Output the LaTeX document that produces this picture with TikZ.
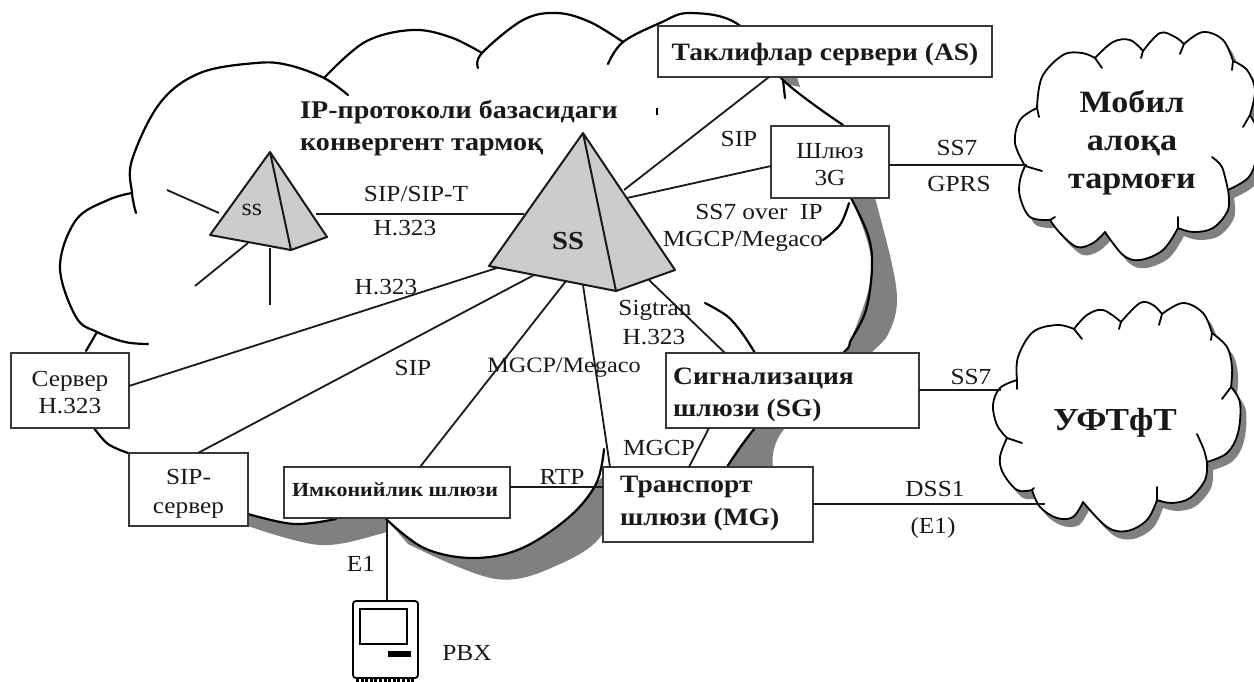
\documentclass[tikz,border=0pt]{standalone}
\usepackage{fontspec}
\usetikzlibrary{calc}
\setmainfont[FakeStretch=1.1]{Liberation Serif}
\definecolor{shadowgray}{gray}{0.5}
\definecolor{pyr}{gray}{0.8}
\definecolor{ink}{gray}{0.1}
\definecolor{boxink}{gray}{0.22}
\tikzset{
  x=1pt,y=-1pt,
  curve/.style={draw=black,line width=2.2pt,line cap=round,line join=round},
  thincurve/.style={draw=black,line width=1.8pt,line cap=round,line join=round},
  conn/.style={draw=ink,line width=1.8pt},
  pyramid/.style={draw=ink,line width=2pt,fill=pyr,line join=round},
  boxn/.style={draw=boxink,fill=white,line width=1.8pt,inner sep=0pt,outer sep=0pt},
  boxtxt/.style={inner sep=0pt,align=center,font=\fontsize{23}{27}\selectfont,text=ink},
  boldtxt/.style={inner sep=0pt,align=left,font=\fontsize{25}{32}\bfseries\selectfont,text=ink},
  lbl/.style={inner sep=0pt,font=\fontsize{23}{23}\selectfont,text=ink},
  heavy/.style={inner sep=0pt,font=\fontsize{25.5}{36}\bfseries\selectfont,align=left,text=ink},
  cloudtxt/.style={inner sep=0pt,font=\fontsize{31}{38}\bfseries\selectfont,align=center,text=ink},
}
\newcommand{\mobilepath}[1]{\path[#1]
  plot[smooth,tension=.6] coordinates {(1025,166)(1015,143)(1020,120)(1037,108)}
  -- plot[smooth,tension=.6] coordinates {(1037,108)(1042,77)(1063,55)(1082,53)(1095,58)}
  -- plot[smooth,tension=.6] coordinates {(1095,58)(1113,42)(1130,40)(1143,51)}
  -- plot[smooth,tension=.6] coordinates {(1143,51)(1160,33)(1175,37)(1184,44)}
  -- plot[smooth,tension=.6] coordinates {(1184,44)(1203,32)(1223,40)(1233,61)}
  -- plot[smooth,tension=.6] coordinates {(1233,61)(1247,70)(1255,90)(1250,115)}
  -- plot[smooth,tension=.6] coordinates {(1250,115)(1259,135)(1256,160)(1248,178)(1228,190)}
  -- plot[smooth,tension=.6] coordinates {(1228,190)(1228,210)(1213,228)(1193,232)(1178,228)}
  -- plot[smooth,tension=.6] coordinates {(1178,228)(1163,250)(1140,260)(1123,255)(1105,232)}
  -- plot[smooth,tension=.6] coordinates {(1105,232)(1093,243)(1077,247)(1060,233)(1050,220)}
  -- plot[smooth,tension=.6] coordinates {(1050,220)(1030,217)(1020,197)(1020,180)(1025,166)};}
\newcommand{\pstnpath}[1]{\path[#1]
  plot[smooth,tension=.6] coordinates {(1007,438)(997,425)(993,405)(1000,388)(1017,380)}
  -- plot[smooth,tension=.6] coordinates {(1017,380)(1018,357)(1033,332)(1057,325)(1074,329)}
  -- plot[smooth,tension=.6] coordinates {(1074,329)(1087,315)(1103,310)(1121,322)}
  -- plot[smooth,tension=.6] coordinates {(1121,322)(1140,303)(1153,305)(1162,314)}
  -- plot[smooth,tension=.6] coordinates {(1162,314)(1183,303)(1203,313)(1212,333)}
  -- plot[smooth,tension=.6] coordinates {(1212,333)(1227,347)(1232,367)(1231,387)}
  -- plot[smooth,tension=.6] coordinates {(1231,387)(1240,403)(1238,433)(1227,453)(1207,462)}
  -- plot[smooth,tension=.6] coordinates {(1207,462)(1205,480)(1190,498)(1172,503)(1157,500)}
  -- plot[smooth,tension=.6] coordinates {(1157,500)(1147,520)(1127,531)(1107,527)(1083,502)}
  -- plot[smooth,tension=.6] coordinates {(1083,502)(1073,517)(1057,518)(1040,507)(1032,490)}
  -- plot[smooth,tension=.6] coordinates {(1032,490)(1017,490)(1003,473)(1000,457)(1007,438)};}
\begin{document}
\begin{tikzpicture}
\clip (0,0) rectangle (1254,682);
\fill[white] (0,0) rectangle (1254,682);
% --- grey shadows of the large cloud
\fill[shadowgray] plot[smooth,tension=.6] coordinates {(851,198)(872,267)(851,340)(843,353)(755,428)(727,467)}
  -- plot[smooth,tension=.6] coordinates {(773,467)(785,428)(871,353)(890,330)(897,300)(891,260)(875,198)} -- cycle;
\fill[shadowgray] (781,77) -- (797,77) -- (800,87) -- (786,84) -- cycle;
\fill[shadowgray] plot[smooth,tension=.6] coordinates {(248,514)(294,524)(336,519)(386,519)}
  -- plot[smooth,tension=.6] coordinates {(386,530)(380,534)(320,545)(248,526)} -- cycle;
\fill[shadowgray] plot[smooth,tension=.6] coordinates {(386,519)(424,548)(472,558)(520,549)(568,518)(596,484)}
  -- plot[smooth,tension=.6] coordinates {(604,475)(604,531)(560,564)(496,579)(408,544)} -- cycle;
% --- outline of the large cloud
\draw[curve] plot[smooth,tension=.6] coordinates {(136,213)(132,193)(132,160)(160,103)(200,73)(256,63)(288,65)(324,78)(348,95)};
\draw[curve] plot[smooth,tension=.6] coordinates {(324,78)(365,42)(412,30)(450,37)(482,53)};
\draw[curve] plot[smooth,tension=.6] coordinates {(478,68)(482,53)(523,20)(557,13)(590,22)(623,42)};
\draw[curve] plot[smooth,tension=.6] coordinates {(608,64)(623,42)(660,23)(690,13)(739,25)(783,80)(843,125)};
\draw[curve] (785,98) -- (783,80);
\draw[curve] plot[smooth,tension=.6] coordinates {(823,240)(840,225)(849,203)};
\draw[curve] plot[smooth,tension=.6] coordinates {(851,198)(868,235)(872,267)(866,310)(851,340)(843,353)(790,395)(755,428)(727,467)};
\draw[curve] plot[smooth,tension=.6] coordinates {(705,303)(727,316)(742,333)(755,353)};
\draw[curve] plot[smooth,tension=.6] coordinates {(132,193)(108,200)(76,220)(60,267)(76,317)(97,332)(125,342)(148,344)};
\draw[curve] (97,332) -- (86,351);
\draw[curve] plot[smooth,tension=.6] coordinates {(94,428)(108,444)(128,453)};
\draw[curve] plot[smooth,tension=.6] coordinates {(248,514)(294,524)(336,519)};
\draw[curve] plot[smooth,tension=.6] coordinates {(386,519)(424,548)(472,558)(520,549)(568,518)(596,484)(604,449)};
\fill[black] (656.3,108) rectangle (657.7,115);
% --- the two small clouds
\mobilepath{fill=shadowgray,shift={(6,8)}}
\mobilepath{fill=white,thincurve}
\draw[thincurve] (1025,166) -- (1042,171);
\draw[thincurve] (1037,108) -- (1039,117);
\draw[thincurve] (1095,58) -- (1102,68);
\draw[thincurve] (1143,51) -- (1141,58);
\draw[thincurve] (1184,44) -- (1180,54);
\draw[thincurve] (1233,61) -- (1232,70);
\draw[thincurve] (1250,115) -- (1243,127);
\draw[thincurve] plot[smooth] coordinates {(1228,190)(1222,167)(1212,157)};
\draw[thincurve] (1178,228) -- (1178,217);
\draw[thincurve] (1050,220) -- (1055,217);
\pstnpath{fill=shadowgray,shift={(6,8)}}
\pstnpath{fill=white,thincurve}
\draw[thincurve] (1007,438) -- (1022,443);
\draw[thincurve] (1017,380) -- (1017,389);
\draw[thincurve] (1074,329) -- (1082,339);
\draw[thincurve] (1121,322) -- (1119,329);
\draw[thincurve] (1162,314) -- (1159,325);
\draw[thincurve] (1212,333) -- (1211,340);
\draw[thincurve] (1231,387) -- (1222,399);
\draw[thincurve] plot[smooth] coordinates {(1207,462)(1204,450)(1197,434)};
\draw[thincurve] (1157,500) -- (1157,487);
\draw[thincurve] (1032,490) -- (1034,488);
% --- boxes
\node[boxn,minimum width=334pt,minimum height=51pt] (as) at (825,51.5) {};
\node[boxn,minimum width=118pt,minimum height=72pt] (gw3) at (830,162) {};
\node[boxn,minimum width=118pt,minimum height=75pt] (srv) at (70,390.5) {};
\node[boxn,minimum width=119pt,minimum height=73pt] (sipb) at (188.5,489.5) {};
\node[boxn,minimum width=226pt,minimum height=51pt] (imk) at (397,492.5) {};
\node[boxn,minimum width=253pt,minimum height=75pt] (sg) at (792.5,390.5) {};
\node[boxn,minimum width=210pt,minimum height=75pt] (mg) at (708,504.5) {};
% --- box texts
\node[boxtxt,font=\fontsize{25}{27}\bfseries\selectfont] (asT) at (825,54.5) {Таклифлар сервери (AS)};
\node[boxtxt] (gw3T) at (830,164.5) {Шлюз\\3G};
\node[boxtxt] (srvT) at (70,392.5) {Сервер\\H.323};
\node[boxtxt,font=\fontsize{23}{29}\selectfont] (sipbT) at (188.5,493.5) {SIP-\\сервер};
\node[boxtxt,font=\fontsize{20}{20}\bfseries\selectfont] (imkT) at (395,489.5) {Имконийлик шлюзи};
\node[boldtxt,anchor=west] (sgT) at (673,394.5) {Сигнализация\\шлюзи (SG)};
\node[boldtxt,anchor=west,font=\fontsize{25}{33}\bfseries\selectfont] (mgT) at (620,503) {Транспорт\\шлюзи (MG)};
% --- connector end points
\coordinate (sA) at (270,152);
\coordinate (sL) at (210,235);
\coordinate (sB) at (291,250);
\coordinate (sR) at (327,237);
\coordinate (bA) at (583,133);
\coordinate (bL) at (489,266);
\coordinate (bB) at (616,291);
\coordinate (bR) at (675,270);
\coordinate (f1) at (167,190);
\coordinate (f1e) at (219,213);
\coordinate (f2) at (195,286);
\coordinate (f2e) at (248,243);
\coordinate (f3) at (270,305);
\coordinate (f3e) at (270,248);
\coordinate (sbL) at (316,214);
\coordinate (sbR) at (524,214);
\coordinate (b1) at (500,267);
\coordinate (srvE) at (129,386);
\coordinate (b2) at (534,275);
\coordinate (sipN) at (198,453);
\coordinate (b3) at (566,281);
\coordinate (imkN) at (420,467);
\coordinate (b4) at (583,285);
\coordinate (mgN) at (610,467);
\coordinate (b5) at (649,280);
\coordinate (sgN) at (725,353);
\coordinate (sgS) at (709,428);
\coordinate (mgN2) at (689,467);
\coordinate (b6) at (624,190);
\coordinate (asS) at (769,77);
\coordinate (b7) at (627,198);
\coordinate (gwW) at (771,166);
\coordinate (gwE) at (889,165);
\coordinate (mobW) at (1027,165);
\coordinate (sgE) at (919,390);
\coordinate (ufW) at (1001,390);
\coordinate (mgE) at (813,504);
\coordinate (ufS) at (1045,504);
\coordinate (imkE) at (510,487);
\coordinate (mgW) at (603,487);
\coordinate (imkS) at (387,518);
\coordinate (pbxN) at (387,601);
% --- connectors
\draw[conn] (f1) -- (f1e);
\draw[conn] (f2) -- (f2e);
\draw[conn] (f3) -- (f3e);
\draw[conn] (sbL) -- (sbR);
\draw[conn] (b1) -- (srvE);
\draw[conn] (b2) -- (sipN);
\draw[conn] (b3) -- (imkN);
\draw[conn] (b4) -- (mgN);
\draw[conn] (b5) -- (sgN);
\draw[conn] (sgS) -- (mgN2);
\draw[conn] (b6) -- (asS);
\draw[conn] (b7) -- (gwW);
\draw[conn] (gwE) -- (mobW);
\draw[conn] (sgE) -- (ufW);
\draw[conn] (mgE) -- (ufS);
\draw[conn] (imkE) -- (mgW);
\draw[conn] (imkS) -- (pbxN);
% --- pyramids
\draw[pyramid] (sA) -- (sL) -- (sB) -- (sR) -- cycle (sA) -- (sB);
\draw[pyramid] (bA) -- (bL) -- (bB) -- (bR) -- cycle (bA) -- (bB);
\node[lbl,font=\fontsize{24}{24}\selectfont] (ssS) at (252,210) {ss};
\node[lbl,font=\fontsize{26}{26}\bfseries\selectfont] (ssB) at (568,241) {SS};
% --- PBX
\node[draw=black,fill=white,line width=1.8pt,rounded corners=3pt,minimum width=65pt,minimum height=77pt,inner sep=0pt,outer sep=0pt] (pbx) at (385.5,639.5) {};
\node[draw=black,line width=1.8pt,minimum width=47pt,minimum height=35pt,inner sep=0pt,outer sep=0pt] (scr) at (383.5,626.5) {};
\node[fill=black,minimum width=23pt,minimum height=6pt,inner sep=0pt,outer sep=0pt] (slot) at (399.5,654) {};
\draw[line width=4pt,dash pattern=on 3pt off 1.6pt] ($(pbx.south west)+(3,3)$) -- ($(pbx.south east)+(-3,3)$);
% --- labels
\node[heavy,anchor=west] (title1) at (300,112) {IP-протоколи базасидаги};
\node[heavy,anchor=west] (title2) at (300,147) {конвергент тармоқ};
\node[lbl] (l1) at (416,194) {SIP/SIP-T};
\node[lbl] (l2) at (405,228) {H.323};
\node[lbl] (l3) at (386,287) {H.323};
\node[lbl] (l4) at (739,139) {SIP};
\node[lbl] (l5) at (957,148) {SS7};
\node[lbl] (l6) at (959,184) {GPRS};
\node[lbl] (l7) at (759,212) {SS7 over\ \ IP};
\node[lbl] (l8) at (743,241) {MGCP/Megaco};
\node[lbl] (l9) at (413,368) {SIP};
\node[lbl,font=\fontsize{22}{22}\selectfont] (l10) at (564,368) {MGCP/Megaco};
\node[lbl] (l11) at (655,310) {Sigtran};
\node[lbl] (l12) at (654,337) {H.323};
\node[lbl] (l13) at (659,448) {MGCP};
\node[lbl] (l14) at (562,477) {RTP};
\node[lbl] (l15) at (971,377) {SS7};
\node[lbl] (l16) at (935,489) {DSS1};
\node[lbl] (l17) at (933,528) {(E1)};
\node[lbl] (l18) at (361,564) {E1};
\node[lbl] (l19) at (467,653) {PBX};
\node[cloudtxt] (mob) at (1132,143) {Мобил\\алоқа\\тармоғи};
\node[cloudtxt,font=\fontsize{32}{38}\bfseries\selectfont] (uf) at (1115,423) {УФТфТ};
\end{tikzpicture}
\end{document}
